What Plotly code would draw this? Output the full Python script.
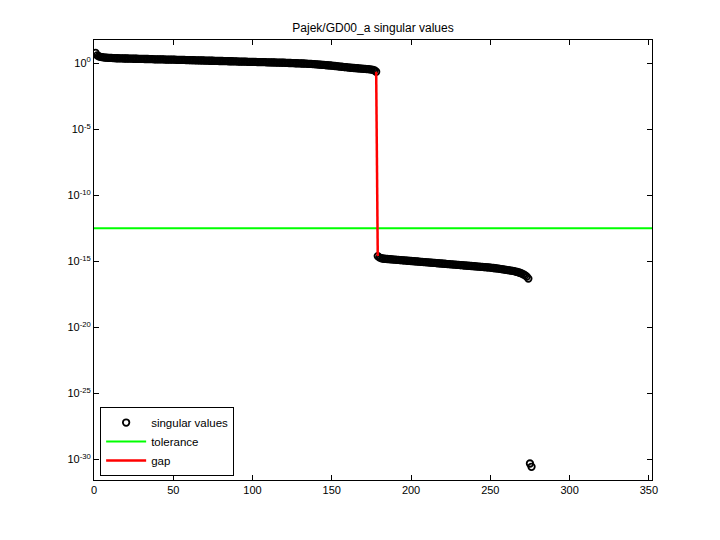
import plotly.graph_objects as go

# log10 of singular values, indices 1..178 (upper block)
upper_exp = [
    0.78, 0.60, 0.53, 0.49, 0.46, 0.44, 0.43, 0.42, 0.41, 0.40,
    0.40, 0.39, 0.39, 0.38, 0.38, 0.37, 0.37, 0.37, 0.36, 0.36,
    0.36, 0.35, 0.35, 0.35, 0.34, 0.34, 0.34, 0.33, 0.33, 0.33,
    0.33, 0.32, 0.32, 0.32, 0.31, 0.31, 0.31, 0.30, 0.30, 0.30,
    0.30, 0.29, 0.29, 0.29, 0.28, 0.28, 0.28, 0.27, 0.27, 0.27,
    0.27, 0.26, 0.26, 0.26, 0.25, 0.25, 0.25, 0.24, 0.24, 0.24,
    0.23, 0.23, 0.23, 0.22, 0.22, 0.22, 0.21, 0.21, 0.21, 0.20,
    0.20, 0.20, 0.19, 0.19, 0.19, 0.18, 0.18, 0.18, 0.17, 0.17,
    0.17, 0.16, 0.16, 0.16, 0.15, 0.15, 0.15, 0.14, 0.14, 0.14,
    0.13, 0.13, 0.13, 0.12, 0.12, 0.12, 0.11, 0.11, 0.11, 0.10,
    0.10, 0.10, 0.09, 0.09, 0.09, 0.08, 0.08, 0.08, 0.07, 0.07,
    0.07, 0.06, 0.06, 0.06, 0.05, 0.05, 0.05, 0.04, 0.04, 0.04,
    0.03, 0.03, 0.02, 0.02, 0.01, 0.01, 0.00, 0.00, -0.01, -0.01,
    -0.02, -0.02, -0.03, -0.03, -0.04, -0.05, -0.05, -0.06, -0.07, -0.08,
    -0.09, -0.10, -0.11, -0.12, -0.13, -0.14, -0.15, -0.16, -0.17, -0.18,
    -0.20, -0.21, -0.22, -0.24, -0.25, -0.26, -0.28, -0.29, -0.30, -0.31,
    -0.33, -0.34, -0.35, -0.36, -0.37, -0.38, -0.39, -0.40, -0.41, -0.42,
    -0.43, -0.44, -0.45, -0.46, -0.48, -0.50, -0.55, -0.64,
]

# log10 of singular values, indices 179..274 (lower block)
lower_exp = [
    -14.60, -14.70, -14.75, -14.78, -14.80, -14.81, -14.82, -14.83, -14.84, -14.85,
    -14.86, -14.87, -14.88, -14.89, -14.90, -14.91, -14.92, -14.93, -14.94, -14.95,
    -14.96, -14.97, -14.98, -14.99, -15.00, -15.01, -15.02, -15.03, -15.04, -15.05,
    -15.06, -15.07, -15.08, -15.09, -15.10, -15.11, -15.12, -15.13, -15.14, -15.15,
    -15.16, -15.17, -15.18, -15.19, -15.20, -15.21, -15.22, -15.23, -15.24, -15.25,
    -15.26, -15.27, -15.28, -15.29, -15.30, -15.31, -15.32, -15.33, -15.34, -15.35,
    -15.36, -15.37, -15.38, -15.39, -15.40, -15.41, -15.42, -15.43, -15.44, -15.45,
    -15.46, -15.47, -15.49, -15.50, -15.52, -15.53, -15.55, -15.56, -15.58, -15.60,
    -15.62, -15.64, -15.66, -15.68, -15.70, -15.72, -15.74, -15.77, -15.80, -15.84,
    -15.88, -15.93, -15.99, -16.06, -16.15, -16.30,
]

# log10 of the two tiny singular values, indices 275..276
tiny_exp = [-30.30, -30.55]

tolerance_exp = -12.5
gap_index = 178
n_cols = 352

x_ticks = [0, 50, 100, 150, 200, 250, 300, 350]
y_tick_exps = [0, -5, -10, -15, -20, -25, -30]
y_tick_text = ["10<sup>0</sup>", "10<sup>-5</sup>", "10<sup>-10</sup>", "10<sup>-15</sup>",
               "10<sup>-20</sup>", "10<sup>-25</sup>", "10<sup>-30</sup>"]

all_exp = upper_exp + lower_exp + tiny_exp
sv = [10 ** e for e in all_exp]
idx = list(range(1, len(sv) + 1))

fig = go.Figure()
fig.add_trace(go.Scatter(
    x=idx, y=sv, mode="markers", name="singular values",
    marker=dict(symbol="circle-open", size=6.5, color="black", line=dict(width=1.8, color="black")),
))
fig.add_trace(go.Scatter(
    x=[0, n_cols], y=[10 ** tolerance_exp, 10 ** tolerance_exp], mode="lines",
    name="tolerance", line=dict(color="#00ff00", width=2),
))
fig.add_trace(go.Scatter(
    x=[gap_index, gap_index + 1], y=[sv[gap_index - 1], sv[gap_index]], mode="lines",
    name="gap", line=dict(color="#ff0000", width=2.5),
))

font_family = "Liberation Sans, Arial, Helvetica, sans-serif"
fig.update_layout(
    width=720, height=540,
    margin=dict(l=86, r=76, t=32, b=68),
    paper_bgcolor="white", plot_bgcolor="white",
    font=dict(family=font_family, size=11, color="black"),
    title=dict(text="Pajek/GD00_a singular values", x=(86 + 644) / 2 / 720, xanchor="center",
               y=1 - 20 / 540, yanchor="middle", font=dict(size=12, color="black")),
    showlegend=True,
    legend=dict(x=0.011, y=0.009, xanchor="left", yanchor="bottom",
                bgcolor="white", bordercolor="black", borderwidth=1,
                itemwidth=40,
                font=dict(size=11.5, color="black"), tracegroupgap=0),
)
fig.update_xaxes(
    range=[0, n_cols], tickvals=x_ticks, ticktext=[str(t) for t in x_ticks],
    showgrid=False, zeroline=False, showline=True, linecolor="black", linewidth=1,
    mirror="ticks", ticks="inside", ticklen=5, tickcolor="black",
)
fig.update_yaxes(
    type="log", range=[-31.55, 1.76],
    tickvals=[10 ** e for e in y_tick_exps], ticktext=y_tick_text,
    showgrid=False, zeroline=False, showline=True, linecolor="black", linewidth=1,
    mirror="ticks", ticks="inside", ticklen=5, tickcolor="black",
)

fig.write_html("out.html")
